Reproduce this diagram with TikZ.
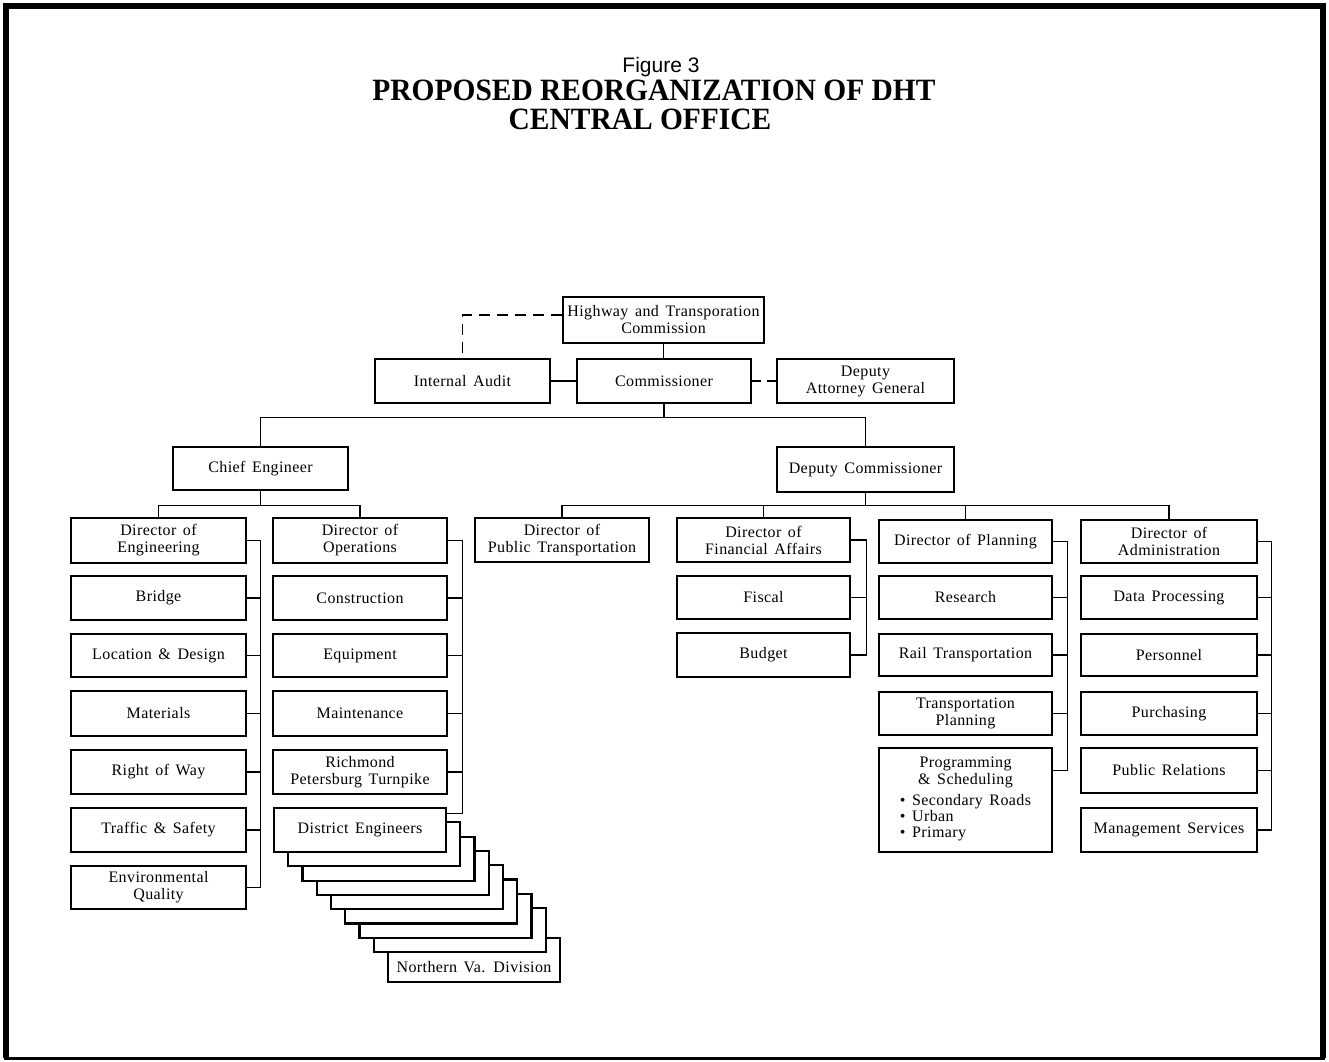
\documentclass[tikz,border=0pt]{standalone}
\usepackage{fontspec}
\setmainfont[LetterSpace=2.5,WordSpace=1.5]{Liberation Serif}
\newfontfamily\figfont{Liberation Sans}
\newfontfamily\titlefont[FakeStretch=0.95]{Liberation Serif Bold}
\newcommand{\orgbox}[6]{\node[box, minimum width={(#3-#2)*1pt}, minimum height={(#5-#4)*1pt}] (#1) at ({(#2+#3)/2},{-(#4+#5)/2}) {#6};}
\begin{document}
\begin{tikzpicture}[x=1pt,y=1pt,
  box/.style={draw, line width=2.2pt, fill=white, inner sep=0pt, align=center, font=\fontsize{16}{17}\selectfont},
  boxtext/.style={inner sep=0pt, align=center, font=\fontsize{16}{17}\selectfont},
  conn/.style={line width=1.1pt},
  dashline/.style={line width=1.1pt, dash pattern=on 11pt off 7pt}]
\useasboundingbox (0,0) rectangle (1329,-1061);
\fill[white] (0,0) rectangle (1329,-1061);
% frame
\draw[line width=6pt] (6,-1058) -- (6,-6) -- (1323,-6) -- (1323,-1058);
\draw[line width=3pt] (4,-1058.5) -- (1325,-1058.5);
% titles
\node[anchor=base, inner sep=0pt, font=\figfont\fontsize{21}{21}\selectfont] (fig) at (661,-72) {Figure 3};
\node[anchor=base, inner sep=0pt, font=\titlefont\fontsize{31}{31}\selectfont] (t1) at (654,-100) {PROPOSED REORGANIZATION OF DHT};
\node[anchor=base, inner sep=0pt, font=\titlefont\fontsize{31}{31}\selectfont] (t2) at (640,-129) {CENTRAL OFFICE};

% top level
\orgbox{commission}{563}{764}{297}{343}{Highway and Transporation\\Commission}
\orgbox{audit}{375}{550}{359}{403}{Internal Audit}
\orgbox{commissioner}{577}{751}{359}{403}{Commissioner}
\orgbox{dag}{777}{954}{359}{403}{Deputy\\Attorney General}
\orgbox{chief}{173}{348}{447}{490}{Chief Engineer}
\orgbox{depcom}{777}{954}{447}{492}{Deputy Commissioner}

% engineering column
\orgbox{doe}{71}{246}{518}{563}{Director of\\Engineering}
\orgbox{bridge}{71}{246}{576}{620}{Bridge}
\orgbox{loc}{71}{246}{634}{677}{Location \& Design}
\orgbox{mat}{71}{246}{691}{736}{Materials}
\orgbox{row}{71}{246}{750}{794}{Right of Way}
\orgbox{traffic}{71}{246}{808}{852}{Traffic \& Safety}
\orgbox{env}{71}{246}{866}{909}{Environmental\\Quality}

% operations column
\orgbox{doo}{273}{447}{518}{563}{Director of\\Operations}
\orgbox{constr}{273}{447}{576}{620}{Construction}
\orgbox{equip}{273}{447}{634}{677}{Equipment}
\orgbox{maint}{273}{447}{691}{736}{Maintenance}
\orgbox{rich}{273}{447}{750}{794}{Richmond\\Petersburg Turnpike}

% district engineers stack (back to front)
\orgbox{de8}{388}{560}{938}{982}{}
\orgbox{de7}{373.75}{545.75}{908.1}{952.1}{}
\orgbox{de6}{359.5}{531.5}{893.8}{937.8}{}
\orgbox{de5}{345.25}{517.25}{879.5}{923.5}{}
\orgbox{de4}{331}{503}{865.2}{909.2}{}
\orgbox{de3}{316.75}{488.75}{850.9}{894.9}{}
\orgbox{de2}{302.5}{474.5}{836.6}{880.6}{}
\orgbox{de1}{288.25}{460.25}{822.3}{866.3}{}
\orgbox{district}{274}{446}{808}{852}{District Engineers}
\node[boxtext] (nvtext) at (de8.center |- 0,-967) {Northern Va. Division};

% deputy commissioner side
\orgbox{dopt}{475}{649}{518}{562}{Director of\\Public Transportation}
\orgbox{dofa}{677}{850}{518}{562}{Director of\\Financial Affairs}
\orgbox{fiscal}{677}{850}{576}{619}{Fiscal}
\orgbox{budget}{677}{850}{633}{677}{Budget}

\orgbox{dop}{879}{1052}{520}{563}{Director of Planning}
\orgbox{research}{879}{1052}{576}{619}{Research}
\orgbox{rail}{879}{1052}{634}{676}{Rail Transportation}
\orgbox{tp}{879}{1052}{692}{735}{Transportation\\Planning}
\orgbox{prog}{879}{1052}{748}{852}{Programming\\\& Scheduling\\[5pt]\begin{tabular}{@{}l@{}}\textbullet{} Secondary Roads\\[-1pt]\textbullet{} Urban\\[-1pt]\textbullet{} Primary\end{tabular}}

\orgbox{doa}{1081}{1257}{520}{563}{Director of\\Administration}
\orgbox{dp}{1081}{1257}{576}{619}{Data Processing}
\orgbox{pers}{1081}{1257}{634}{676}{Personnel}
\orgbox{purch}{1081}{1257}{692}{735}{Purchasing}
\orgbox{pr}{1081}{1257}{748}{793}{Public Relations}
\orgbox{ms}{1081}{1257}{808}{852}{Management Services}

% connectors, top
\draw[conn] (commission.south) -- (commission.south |- commissioner.north);
\draw[conn] (audit.east) -- (commissioner.west);
\draw[dashline] ([yshift=5pt]commission.west) -| (audit.north);
\draw[dashline, dash pattern=on 9pt off 6pt] (commissioner.east) -- (dag.west);
\coordinate (cbar) at ([yshift=-13pt]commissioner.south);
\draw[conn] (commissioner.south) -- (cbar);
\draw[conn] (chief.north) |- (cbar) -| (depcom.north);

% chief engineer
\coordinate (cebar) at ([yshift=-14pt]chief.south);
\draw[conn] (chief.south) -- (cebar);
\draw[conn] (doe.north) |- (cebar) -| (doo.north);
\draw[conn] (doe.east) -- ++(13,0) |- (env.east);
\foreach \b in {bridge,loc,mat,row,traffic} \draw[conn] (\b.east) -- ++(13,0);
\draw[conn] (doo.east) -- ++(14,0) |- ([yshift=-7pt]district.north east);
\foreach \b in {constr,equip,maint,rich} \draw[conn] (\b.east) -- ++(14,0);

% deputy commissioner
\coordinate (dcbar) at ([yshift=-12pt]depcom.south);
\draw[conn] (depcom.south) -- (dcbar);
\draw[conn] (dopt.north) |- (dcbar) -| (doa.north);
\draw[conn] (dofa.north) -- (dofa.north |- dcbar);
\draw[conn] (dop.north) -- (dop.north |- dcbar);
\draw[conn] (dofa.east) -- ++(15,0) |- (budget.east);
\draw[conn] (fiscal.east) -- ++(15,0);
\draw[conn] (dop.east) -- ++(14,0) |- ([yshift=-24pt]prog.north east);
\foreach \b in {research,rail,tp} \draw[conn] (\b.east) -- ++(14,0);
\draw[conn] (doa.east) -- ++(13,0) |- (ms.east);
\foreach \b in {dp,pers,purch,pr} \draw[conn] (\b.east) -- ++(13,0);
\end{tikzpicture}
\end{document}
